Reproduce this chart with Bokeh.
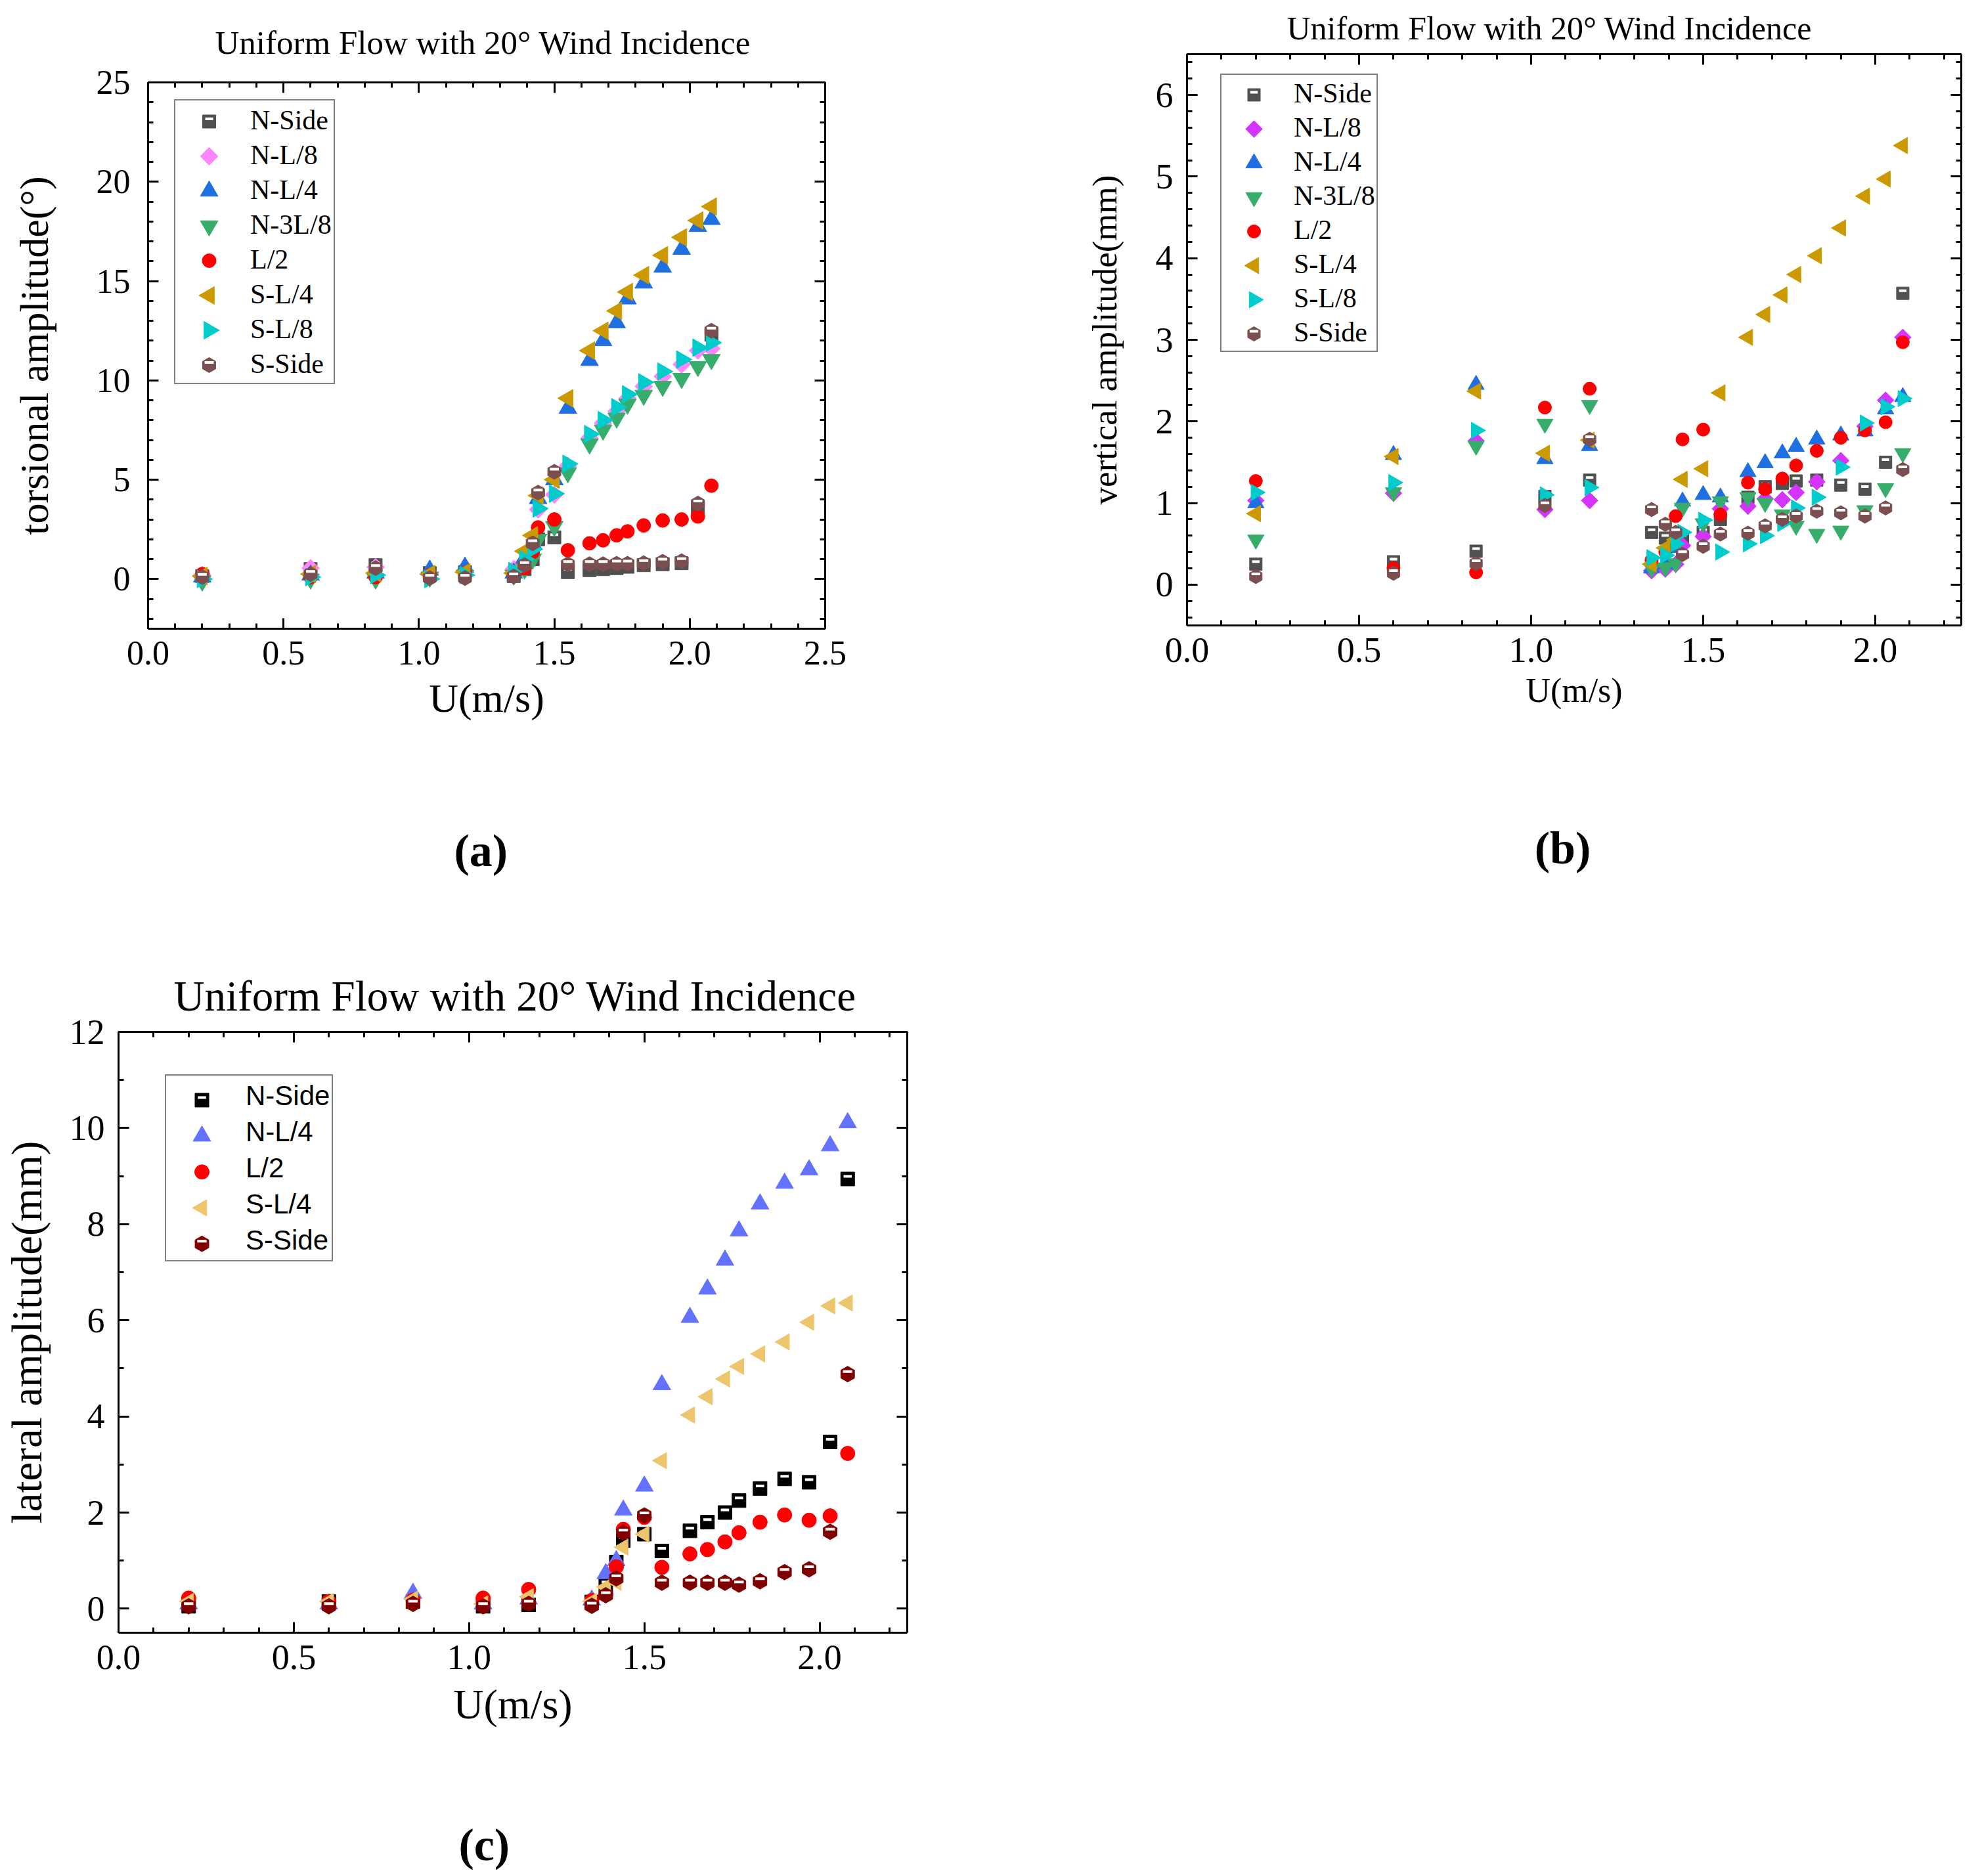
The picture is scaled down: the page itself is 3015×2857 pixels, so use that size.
import math
from bokeh.plotting import figure
from bokeh.models import (Range1d, LinearAxis, SingleIntervalTicker, NumeralTickFormatter,
                          CustomJSTickFormatter, FixedTicker, Legend, LegendItem)
from bokeh.layouts import column, row
from bokeh.embed import file_html
from bokeh.resources import INLINE

# ---------------- data ----------------
U = [0.2, 0.6, 0.84, 1.04, 1.17, 1.35, 1.39, 1.42, 1.44, 1.50,
     1.55, 1.63, 1.68, 1.73, 1.77, 1.83, 1.90, 1.97, 2.03, 2.08]

# (a) torsional amplitude (deg)
a_n_side = [0.15, 0.5, 0.7, 0.3, 0.35, 0.15, 0.5, 1.0, 2.0, 2.1, 0.35, 0.45, 0.5, 0.55, 0.62, 0.7, 0.75, 0.8, 3.6, 12.3]
a_n_l8   = [0.2, 0.55, 0.6, 0.3, 0.4, 0.5, 0.9, 1.5, 3.5, 4.25, 5.7, 7.1, 7.85, 8.45, 9.1, 9.7, 10.2, 10.8, 11.5, 11.6]
a_n_l4   = [0.1, 0.2, 0.3, 0.45, 0.6, 0.3, 1.05, 1.8, 4.05, 5.0, 8.6, 11.0, 12.0, 12.9, 14.1, 14.9, 15.7, 16.6, 17.75, 18.1]
a_n_3l8  = [-0.1, 0.0, 0.0, 0.1, 0.2, 0.2, 0.5, 1.0, 2.0, 2.65, 5.35, 6.8, 7.5, 8.1, 8.8, 9.25, 9.7, 10.1, 10.7, 11.05]
a_l2     = [0.25, 0.1, 0.1, 0.2, 0.3, 0.2, 0.55, 1.35, 2.6, 3.0, 1.45, 1.8, 1.95, 2.2, 2.4, 2.7, 2.95, 3.0, 3.15, 4.7]
a_s_l4   = [0.15, 0.25, 0.3, 0.25, 0.35, 0.3, 1.4, 2.2, 4.2, 5.0, 9.1, 11.5, 12.5, 13.5, 14.45, 15.3, 16.3, 17.2, 18.05, 18.75]
a_s_l8   = [0.0, 0.1, 0.2, 0.0, 0.2, 0.4, 1.0, 1.5, 3.55, 4.3, 5.8, 7.3, 8.0, 8.65, 9.3, 9.9, 10.45, 11.05, 11.65, 11.9]
a_s_side = [0.1, 0.25, 0.55, 0.05, 0.05, 0.13, 0.7, 1.8, 4.35, 5.4, 0.75, 0.75, 0.75, 0.77, 0.77, 0.8, 0.87, 0.9, 3.8, 12.5]

# (b) vertical amplitude (mm)
b_n_side = [0.25, 0.28, 0.41, 1.08, 1.28, 0.64, 0.57, 0.5, 0.57, 0.64, 0.8, 1.07, 1.2, 1.24, 1.27, 1.28, 1.22, 1.17, 1.5, 3.57]
b_n_l8   = [1.03, 1.12, 1.76, 0.92, 1.03, 0.17, 0.19, 0.25, 0.48, 0.59, 0.93, 0.96, 1.05, 1.04, 1.13, 1.26, 1.52, 1.94, 2.26, 3.03]
b_n_l4   = [1.0, 1.59, 2.45, 1.54, 1.7, 0.2, 0.25, 0.45, 1.02, 1.1, 1.07, 1.38, 1.49, 1.61, 1.69, 1.78, 1.83, 1.88, 2.15, 2.3]
b_n_3l8  = [0.55, 1.13, 1.7, 1.97, 2.2, 0.2, 0.21, 0.26, 0.94, 0.75, 1.02, 1.07, 1.0, 0.86, 0.72, 0.62, 0.66, 0.91, 1.18, 1.61]
b_l2     = [1.27, 0.2, 0.15, 2.17, 2.4, 0.3, 0.4, 0.84, 1.78, 1.9, 0.86, 1.25, 1.17, 1.3, 1.46, 1.64, 1.8, 1.89, 1.99, 2.97]
b_s_l4   = [0.87, 1.57, 2.37, 1.61, 1.77, 0.25, 0.45, 0.55, 1.29, 1.42, 2.35, 3.03, 3.31, 3.55, 3.8, 4.03, 4.37, 4.76, 4.97, 5.38]
b_s_l8   = [1.13, 1.25, 1.89, 1.1, 1.19, 0.33, 0.36, 0.5, 0.64, 0.79, 0.4, 0.5, 0.6, 0.75, 0.94, 1.07, 1.44, 1.98, 2.18, 2.28]
b_s_side = [0.1, 0.14, 0.26, 0.97, 1.78, 0.92, 0.74, 0.64, 0.37, 0.47, 0.62, 0.63, 0.72, 0.8, 0.84, 0.9, 0.88, 0.84, 0.94, 1.41]

# (c) lateral amplitude (mm)
c_n_side = [0.05, 0.15, 0.15, 0.05, 0.08, 0.14, 0.5, 0.97, 1.42, 1.55, 1.2, 1.62, 1.8, 2.0, 2.25, 2.5, 2.7, 2.63, 3.47, 8.94]
c_n_l4   = [0.1, 0.1, 0.32, 0.1, 0.2, 0.18, 0.73, 1.0, 2.05, 2.55, 4.66, 6.06, 6.65, 7.25, 7.86, 8.42, 8.85, 9.13, 9.63, 10.11]
c_l2     = [0.22, 0.15, 0.18, 0.22, 0.4, 0.17, 0.3, 0.87, 1.65, 1.9, 0.86, 1.14, 1.23, 1.39, 1.58, 1.8, 1.95, 1.84, 1.93, 3.23]
c_s_l4   = [0.15, 0.15, 0.2, 0.1, 0.25, 0.15, 0.45, 0.55, 1.28, 1.55, 3.08, 4.03, 4.41, 4.78, 5.04, 5.3, 5.55, 5.96, 6.3, 6.36]
c_s_side = [0.05, 0.05, 0.1, 0.05, 0.1, 0.06, 0.28, 0.63, 1.58, 1.94, 0.54, 0.54, 0.54, 0.54, 0.5, 0.57, 0.76, 0.82, 1.6, 4.88]

LABELS_8 = ["N-Side", "N-L/8", "N-L/4", "N-3L/8", "L/2", "S-L/4", "S-L/8", "S-Side"]
LABELS_5 = ["N-Side", "N-L/4", "L/2", "S-L/4", "S-Side"]

TITLE = "Uniform Flow with 20\u00b0 Wind Incidence"
XLABEL = "U(m/s)"
SERIF = "Liberation Serif"
SANS = "Liberation Sans"
NBSP = "\u00a0"

# marker styles: (marker, angle, half-filled)
MK = {
    "N-Side": ("square", 0.0, True),
    "N-L/8": ("square", math.pi / 4, False),
    "N-L/4": ("triangle", 0.0, False),
    "N-3L/8": ("inverted_triangle", 0.0, False),
    "L/2": ("circle", 0.0, False),
    "S-L/4": ("triangle", math.pi / 2, False),
    "S-L/8": ("triangle", -math.pi / 2, False),
    "S-Side": ("hex", math.pi / 2, True),
}


def make_panel(cfg, series, colors, sizes):
    bl, br, bt, bb = cfg["borders"]
    fw, fh = cfg["frame"]
    yr = cfg["yr"]
    p = figure(width=bl + fw + br, height=bt + fh + bb,
               x_range=Range1d(*cfg["xr"]), y_range=Range1d(*yr),
               output_backend="svg", toolbar_location=None,
               min_border_left=bl, min_border_right=br, min_border_top=bt, min_border_bottom=bb,
               x_axis_location=None, y_axis_location=None)
    p.xgrid.visible = False
    p.ygrid.visible = False
    p.outline_line_color = None
    p.background_fill_color = "white"
    p.border_fill_color = "white"

    # title above
    p.title.text = TITLE
    p.title.text_font = SERIF
    p.title.text_font_size = f"{cfg['title_size']}px"
    p.title.text_font_style = "normal"
    p.title.text_color = "black"
    p.title.align = "left"
    p.title.vertical_align = "top"
    p.title.standoff = cfg["title_standoff"]
    p.title.offset = cfg["title_offset"]

    # offset range for the white band of half-filled markers (4 px upward);
    # pixel ranges for the legend symbols
    d = 4.0 * (yr[1] - yr[0]) / fh
    p.extra_y_ranges = {"shift": Range1d(yr[0] - d, yr[1] - d), "ly": Range1d(0, fh)}
    p.extra_x_ranges = {"lx": Range1d(0, fw)}

    def style(ax, show):
        ax.axis_line_width = 3
        ax.axis_line_color = "black"
        ax.major_tick_in = 16
        ax.major_tick_out = 0
        ax.minor_tick_in = 8
        ax.minor_tick_out = 0
        ax.major_tick_line_width = 3
        ax.minor_tick_line_width = 3
        ax.major_label_text_font = SERIF
        ax.major_label_text_font_size = f"{cfg['tick_size']}px"
        ax.major_label_text_color = "black"
        ax.axis_label_text_font = SERIF
        ax.axis_label_text_font_style = "normal"
        ax.axis_label_text_color = "black"
        if not show:
            ax.formatter = CustomJSTickFormatter(code="return ''")

    ax = LinearAxis(ticker=SingleIntervalTicker(interval=0.5, num_minor_ticks=5),
                    formatter=NumeralTickFormatter(format="0.0"))
    style(ax, True)
    ax.major_label_standoff = cfg["xstand"]
    ax.axis_label = XLABEL
    ax.axis_label_text_font_size = f"{cfg['xlabel_size']}px"
    ax.axis_label_standoff = cfg["xlabel_standoff"]
    p.add_layout(ax, "below")

    # panel tag, written as the label of a bare axis under the x axis
    tag = LinearAxis(ticker=FixedTicker(ticks=[]), axis_line_color=None,
                     major_tick_line_color=None, minor_tick_line_color=None,
                     major_label_text_font_size="0px",
                     axis_label=cfg["tag"] + NBSP * cfg["tag_pad"], axis_label_text_font=SERIF,
                     axis_label_text_font_size="70px", axis_label_text_font_style="bold",
                     axis_label_text_color="black", axis_label_standoff=cfg["tag_standoff"])
    p.add_layout(tag, "below")

    axt = LinearAxis(ticker=SingleIntervalTicker(interval=0.5, num_minor_ticks=5))
    style(axt, False)
    p.add_layout(axt, "above")

    ay = LinearAxis(ticker=SingleIntervalTicker(interval=cfg["yint"], num_minor_ticks=cfg["yminor"]))
    style(ay, True)
    ay.major_label_standoff = cfg["ystand"]
    ay.axis_label = cfg["ylabel"]
    ay.axis_label_text_font_size = f"{cfg['ylabel_size']}px"
    ay.axis_label_standoff = cfg["ylabel_standoff"]
    p.add_layout(ay, "left")
    ayr = LinearAxis(ticker=SingleIntervalTicker(interval=cfg["yint"], num_minor_ticks=cfg["yminor"]))
    style(ayr, False)
    p.add_layout(ayr, "right")

    lc = cfg["legend"]
    n = len(series)
    vx, vy = lc["loc"]
    H = n * lc["gh"] + 2 * lc["pad"]
    gx = vx + lc["pad"] + lc["gw"] / 2.0

    items = []
    for i, ((name, vals), col, sz) in enumerate(zip(series, colors, sizes)):
        mk, ang, half = MK[name]
        p.scatter(x=U, y=vals, marker=mk, angle=ang, size=sz,
                  fill_color=col, line_color=col, line_width=1)
        if half:
            p.scatter(x=U, y=vals, marker="dash", size=sz * 0.6, line_color="white",
                      line_width=4, y_range_name="shift")
        # legend entry: its symbol is drawn here with the marker's true orientation
        gy = vy + H - lc["pad"] - (i + 0.5) * lc["gh"]
        p.scatter(x=[gx], y=[gy], marker=mk, angle=ang, size=sz,
                  fill_color=col, line_color=col, line_width=1,
                  x_range_name="lx", y_range_name="ly")
        if half:
            p.scatter(x=[gx], y=[gy + 4], marker="dash", size=sz * 0.6, line_color="white",
                      line_width=4, x_range_name="lx", y_range_name="ly")
        key = p.scatter(x=[], y=[], marker="circle", size=1, fill_alpha=0, line_alpha=0)
        items.append(LegendItem(label=name, renderers=[key]))

    lg = Legend(items=items, location=lc["loc"],
                label_text_font=lc["font"], label_text_font_size=lc["fsize"],
                label_text_color="black",
                glyph_width=lc["gw"], glyph_height=lc["gh"],
                label_height=lc["gh"], label_standoff=lc["stand"],
                padding=lc["pad"], spacing=0, margin=0,
                border_line_color="black", border_line_width=2,
                background_fill_alpha=0.0)
    p.add_layout(lg)
    return p


# ---------------- panel (a) ----------------
cfg_a = dict(borders=(225, 344, 125, 443), frame=(1031, 832),
             xr=(0, 2.5), yr=(-2.5, 25), yint=5, yminor=5,
             tick_size=52, xstand=19, ystand=27,
             ylabel="torsional amplitude(\u00b0)", ylabel_size=62, ylabel_standoff=58,
             xlabel_size=62, xlabel_standoff=14,
             title_size=51, title_standoff=62, title_offset=102,
             tag="(a)", tag_pad=1, tag_standoff=157,
             legend=dict(loc=(40, 372), font=SERIF, fsize="42px", gw=100, gh=53, stand=11, pad=3))
col_a = ["#505050", "#ff85ff", "#1f6fe0", "#38ad6b", "#ff0000", "#cc9a00", "#00cccc", "#7b4f4f"]
size_a = [20, 19, 27, 27, 21, 27, 27, 23]
ser_a = list(zip(LABELS_8, [a_n_side, a_n_l8, a_n_l4, a_n_3l8, a_l2, a_s_l4, a_s_l8, a_s_side]))
pa = make_panel(cfg_a, ser_a, col_a, size_a)

# ---------------- panel (b) ----------------
cfg_b = dict(borders=(207, 24, 82, 448), frame=(1179, 870),
             xr=(0, 2.25), yr=(-0.5, 6.5), yint=1, yminor=5,
             tick_size=54, xstand=19, ystand=21,
             ylabel="vertical amplitude(mm)", ylabel_size=53, ylabel_standoff=46,
             xlabel_size=52, xlabel_standoff=12,
             title_size=50, title_standoff=20, title_offset=152,
             tag="(b)", tag_pad=2, tag_standoff=170,
             legend=dict(loc=(51, 416), font=SERIF, fsize="42px", gw=98, gh=52, stand=10, pad=2))
col_b = ["#505050", "#d534ff", "#1f6fe0", "#38ad6b", "#ff0000", "#cc9a00", "#00cccc", "#7b4f4f"]
size_b = [19, 18, 25, 25, 20, 25, 25, 22]
ser_b = list(zip(LABELS_8, [b_n_side, b_n_l8, b_n_l4, b_n_3l8, b_l2, b_s_l4, b_s_l8, b_s_side]))
pb = make_panel(cfg_b, ser_b, col_b, size_b)

# ---------------- panel (c) ----------------
cfg_c = dict(borders=(180, 219, 171, 359), frame=(1201, 920),
             xr=(0, 2.25), yr=(-0.5, 12), yint=2, yminor=2,
             tick_size=54, xstand=19, ystand=21,
             ylabel="lateral amplitude(mm)", ylabel_size=65, ylabel_standoff=26,
             xlabel_size=64, xlabel_standoff=15,
             title_size=65, title_standoff=33, title_offset=84,
             tag="(c)", tag_pad=5, tag_standoff=137,
             legend=dict(loc=(71, 565), font=SANS, fsize="42px", gw=106, gh=55, stand=12, pad=3))
col_c = ["#000000", "#6272ff", "#ff0000", "#ecc56c", "#800000"]
size_c = [21, 27, 22, 25, 24]
ser_c = list(zip(LABELS_5, [c_n_side, c_n_l4, c_l2, c_s_l4, c_s_side]))
pc = make_panel(cfg_c, ser_c, col_c, size_c)

layout = column(row(column(pa), column(pb)), pc)
open("out.html", "w").write(file_html(layout, INLINE))
